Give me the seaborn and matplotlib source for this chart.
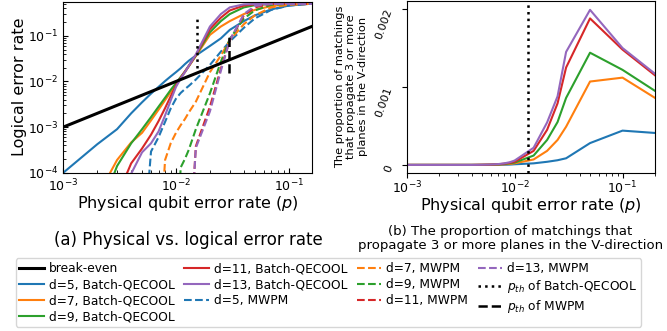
import matplotlib
matplotlib.use("Agg")
import matplotlib.pyplot as plt
import seaborn as sns

# ---- data: logical error rate vs physical error rate ----
p_left = [0.001, 0.002, 0.003, 0.004, 0.005, 0.006, 0.007, 0.008, 0.009, 0.01,
          0.011, 0.012, 0.013, 0.015, 0.02, 0.025, 0.03, 0.04, 0.05, 0.07,
          0.1, 0.15, 0.2]

# values far below the axis are written as 1e-6 (they show as vertical drops)
batch_d5 = [1.0e-4, 4.2e-4, 9.0e-4, 2.0e-3, 3.5e-3, 5.4e-3, 7.6e-3, 1.02e-2, 1.3e-2, 1.6e-2,
            1.95e-2, 2.4e-2, 2.85e-2, 3.7e-2, 6.0e-2, 8.8e-2, 0.135, 0.21, 0.28, 0.38,
            0.46, 0.5, 0.5]
batch_d7 = [1e-6, 3e-5, 1.9e-4, 4.6e-4, 7.5e-4, 1.4e-3, 2.4e-3, 3.9e-3, 5.9e-3, 8.6e-3,
            1.2e-2, 1.6e-2, 2.15e-2, 3.6e-2, 0.105, 0.16, 0.21, 0.3, 0.37, 0.45,
            0.49, 0.5, 0.5]
batch_d9 = [1e-6, 1e-5, 1.4e-4, 4.4e-4, 9.0e-4, 1.65e-3, 2.8e-3, 4.4e-3, 6.6e-3, 9.2e-3,
            1.25e-2, 1.65e-2, 2.2e-2, 3.7e-2, 0.12, 0.21, 0.3, 0.42, 0.47, 0.5,
            0.5, 0.5, 0.5]
batch_d11 = [1e-6, 1e-6, 3e-5, 1.6e-4, 3.4e-4, 6.8e-4, 1.35e-3, 2.6e-3, 4.8e-3, 8.2e-3,
             1.2e-2, 1.65e-2, 2.2e-2, 3.8e-2, 0.14, 0.25, 0.36, 0.46, 0.49, 0.5,
             0.5, 0.5, 0.5]
batch_d13 = [1e-6, 1e-6, 1e-6, 9.5e-5, 2.8e-4, 4.4e-4, 8.0e-4, 1.8e-3, 3.9e-3, 7.6e-3,
             1.15e-2, 1.6e-2, 2.2e-2, 3.9e-2, 0.16, 0.3, 0.42, 0.49, 0.5, 0.5,
             0.5, 0.5, 0.5]

mwpm_d5 = [1e-6, 1e-6, 1e-6, 1e-6, 1e-6, 2.9e-4, 6.0e-4, 1.3e-3, 2.6e-3, 4.2e-3,
           5.6e-3, 6.8e-3, 8.0e-3, 1.1e-2, 2.3e-2, 4.5e-2, 7.5e-2, 0.15, 0.24, 0.37,
           0.46, 0.5, 0.5]
mwpm_d7 = [1e-6, 1e-6, 1e-6, 1e-6, 1e-6, 1e-6, 1e-6, 1.9e-4, 4.5e-4, 7.5e-4,
           1.1e-3, 1.5e-3, 2.1e-3, 3.6e-3, 1.6e-2, 3.7e-2, 8.0e-2, 0.18, 0.28, 0.42,
           0.48, 0.5, 0.5]
mwpm_d9 = [1e-6, 1e-6, 1e-6, 1e-6, 1e-6, 1e-6, 1e-6, 1e-6, 1e-6, 1e-6,
           1.3e-4, 2.0e-4, 3.2e-4, 9.0e-4, 5.5e-3, 2.7e-2, 8.5e-2, 0.24, 0.36, 0.48,
           0.5, 0.5, 0.5]
mwpm_d11 = [1e-6, 1e-6, 1e-6, 1e-6, 1e-6, 1e-6, 1e-6, 1e-6, 1e-6, 1e-6,
            1e-6, 1e-6, 1e-6, 3.8e-4, 2.8e-3, 1.9e-2, 8.0e-2, 0.28, 0.42, 0.5,
            0.5, 0.5, 0.5]
mwpm_d13 = [1e-6, 1e-6, 1e-6, 1e-6, 1e-6, 1e-6, 1e-6, 1e-6, 1e-6, 1e-6,
            1e-6, 1e-6, 1e-6, 3.5e-4, 2.2e-3, 1.7e-2, 8.0e-2, 0.3, 0.45, 0.5,
            0.5, 0.5, 0.5]

pth_batch = 0.0153
pth_batch_span = [0.02, 0.29]
pth_mwpm = 0.0296
pth_mwpm_span = [0.015, 0.1]

# ---- data: proportion of matchings propagating >= 3 planes (x1e-3) ----
p_right = [0.001, 0.002, 0.003, 0.004, 0.005, 0.006, 0.007, 0.008, 0.009, 0.01,
           0.015, 0.02, 0.025, 0.03, 0.05, 0.1, 0.2]
prop_d5 = [0, 0, 0, 0, 0, 0, 0.001, 0.002, 0.004, 0.008,
           0.02, 0.04, 0.06, 0.085, 0.28, 0.44, 0.41]
prop_d7 = [0, 0, 0, 0, 0.001, 0.002, 0.004, 0.008, 0.012, 0.02,
           0.07, 0.18, 0.32, 0.49, 1.07, 1.12, 0.86]
prop_d9 = [0, 0, 0, 0, 0.001, 0.003, 0.006, 0.012, 0.02, 0.03,
           0.12, 0.32, 0.55, 0.86, 1.44, 1.22, 0.95]
prop_d11 = [0, 0, 0, 0, 0.002, 0.004, 0.008, 0.016, 0.026, 0.04,
            0.18, 0.45, 0.79, 1.25, 1.88, 1.48, 1.15]
prop_d13 = [0, 0, 0, 0, 0.002, 0.005, 0.01, 0.02, 0.034, 0.056,
            0.22, 0.545, 0.88, 1.45, 1.99, 1.50, 1.17]
pth_right = 0.0132

dists = [5, 7, 9, 11, 13]
batch_series = [batch_d5, batch_d7, batch_d9, batch_d11, batch_d13]
mwpm_series = [mwpm_d5, mwpm_d7, mwpm_d9, mwpm_d11, mwpm_d13]
prop_series = [prop_d5, prop_d7, prop_d9, prop_d11, prop_d13]
colors = sns.color_palette("tab10", 5)

fig = plt.figure(figsize=(6.67, 3.31), dpi=100)
ax1 = fig.add_axes([63.3 / 667, 1 - 172.7 / 331, 248.4 / 667, 171.0 / 331])
ax2 = fig.add_axes([406.7 / 667, 1 - 172.7 / 331, 248.3 / 667, 172.2 / 331])

# ---- left panel ----
ax1.set_xscale("log")
ax1.set_yscale("log")
sns.lineplot(x=p_left, y=p_left, ax=ax1, color="black", lw=2.2, label="break-even", zorder=3)
for d, vals, c in zip(dists, batch_series, colors):
    sns.lineplot(x=p_left, y=vals, ax=ax1, color=c, lw=1.5, label=f"d={d}, Batch-QECOOL")
for d, vals, c in zip(dists, mwpm_series, colors):
    sns.lineplot(x=p_left, y=vals, ax=ax1, color=c, lw=1.5, linestyle="--", label=f"d={d}, MWPM")
ax1.vlines(pth_batch, pth_batch_span[0], pth_batch_span[1], colors="black",
           linestyles=":", lw=1.8, label="$p_{th}$ of Batch-QECOOL")
ax1.vlines(pth_mwpm, pth_mwpm_span[0], pth_mwpm_span[1], colors="black",
           linestyles="--", lw=1.8, label="$p_{th}$ of MWPM")
ax1.set_xlim(1e-3, 0.16)
ax1.set_ylim(1e-4, 0.56)
ax1.tick_params(which="both", direction="in", labelsize=9)
ax1.set_xlabel("Physical qubit error rate ($p$)", fontsize=11.5, labelpad=0)
ax1.set_ylabel("Logical error rate", fontsize=11.5, labelpad=1)

handles, labels = ax1.get_legend_handles_labels()
ax1.get_legend().remove()
order = (["break-even"] + [f"d={d}, Batch-QECOOL" for d in dists]
         + [f"d={d}, MWPM" for d in dists]
         + ["$p_{th}$ of Batch-QECOOL", "$p_{th}$ of MWPM"])
lookup = dict(zip(labels, handles))

# ---- right panel ----
ax2.set_xscale("log")
for d, vals, c in zip(dists, prop_series, colors):
    sns.lineplot(x=p_right, y=[v * 1e-3 for v in vals], ax=ax2, color=c, lw=1.5)
ax2.axvline(pth_right, color="black", linestyle=":", lw=1.8)
ax2.set_xlim(1e-3, 0.2)
ax2.set_ylim(-0.0001, 0.00211)
ax2.set_yticks([0, 0.001, 0.002])
ax2.set_yticklabels(["0", "0.001", "0.002"], rotation=70, fontsize=8,
                    rotation_mode="anchor", ha="right", va="center")
ax2.tick_params(axis="y", pad=9)
ax2.tick_params(axis="x", labelsize=9, pad=1.5)
ax2.set_xlabel("Physical qubit error rate ($p$)", fontsize=11.5, labelpad=0)
ax2.set_ylabel("The proportion of matchings\nthat propagate 3 or more\nplanes in the V-direction",
               fontsize=8.2)
ax2.yaxis.set_label_coords(-0.156, 0.5)

fig.text(0.282, 0.275, "(a) Physical vs. logical error rate", ha="center", va="center", fontsize=12)
fig.text(0.765, 0.278, "(b) The proportion of matchings that\npropagate 3 or more planes in the V-direction",
         ha="center", va="center", fontsize=9.5, linespacing=1.1)

fig.legend([lookup[l] for l in order], order, loc="lower center", bbox_to_anchor=(0.4925, -0.006),
           ncol=4, fontsize=8.8, labelspacing=0.25, handletextpad=0.4, columnspacing=0.8,
           borderpad=0.3)

fig.savefig("out.png", dpi=100)
